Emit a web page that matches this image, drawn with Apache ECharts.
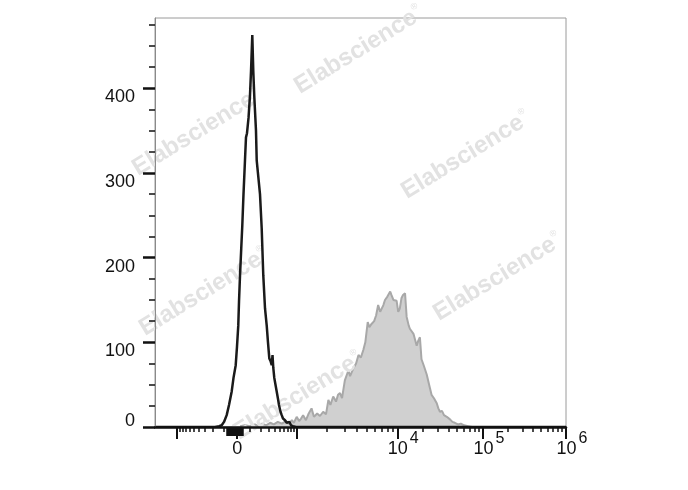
<!DOCTYPE html>
<html>
<head>
<meta charset="utf-8">
<script src="https://cdn.jsdelivr.net/npm/echarts@6/dist/echarts.min.js"></script>
<style>
html,body{margin:0;padding:0;background:#fff;}
#chart{width:688px;height:490px;}
</style>
</head>
<body>
<div id="chart"></div>
<script>
// ---- data (x in display channels 0..1024 of the biexponential axis, y = events) ----
const blackChannels = [0, 149.5, 159.5, 166.2, 171.9, 178.6, 184.4, 191.1, 195.6, 201.1, 204.3, 207.5, 209.3, 211.8, 214.8, 217.5, 220.5, 224.2, 226.7, 229.2, 233.0, 236.7, 239.2, 242.4, 244.9, 247.4, 249.2, 251.6, 253.4, 257.4, 261.6, 265.8, 269.8, 274.1, 278.3, 281.5, 284.8, 287.8, 290.8, 292.8, 294.7, 297.2, 300.2, 303.2, 306.5, 308.9, 312.7, 315.7, 318.9, 321.4, 323.9, 326.4, 328.1, 331.4, 335.1, 338.8, 343.8, 351.3, 1024];
const blackCounts   = [0, 0, 1, 2, 6, 14, 26, 42, 58, 73, 95, 120, 148, 179, 210, 238, 275, 315, 342, 347, 365, 392, 420, 463, 420, 390, 388, 350, 315, 313, 275, 235, 179, 140, 120, 100, 81, 78, 73, 85, 70, 58, 50, 42, 33, 26, 18, 14, 10, 12, 8, 6, 5, 4, 6, 2, 1, 0, 0];

const grayChannels = [212, 224, 237, 249, 257, 267, 277, 287, 296, 306, 316, 326, 334, 341, 346, 353, 359, 364, 369, 376, 382, 390, 396, 404, 411, 419, 426, 432, 437, 444, 451, 456, 461, 466, 473, 482, 486, 494, 501, 507, 513, 519, 524, 530, 534, 540, 546, 551, 556, 561, 565, 569, 573, 579, 586, 589, 594, 598, 602, 606, 610, 614, 618, 623, 627, 632, 635, 644, 652, 656, 660, 664, 670, 677, 683, 689, 695, 702, 706, 710, 715, 720, 727, 735, 741, 747, 755, 762, 770, 780, 790];
const grayCounts   = [1, 2, 1, 3, 1, 4, 2, 5, 3, 6, 4, 7, 4, 8, 5, 12, 7, 10, 14, 8, 15, 22, 12, 16, 13, 18, 15, 32, 26, 36, 30, 38, 40, 34, 55, 67, 60, 69, 75, 85, 82, 91, 100, 124, 118, 122, 125, 132, 144, 136, 134, 144, 150, 154, 160, 156, 150, 151, 149, 136, 140, 152, 156, 158, 130, 120, 116, 110, 96, 102, 106, 80, 72, 62, 50, 38, 34, 28, 22, 18, 19, 14, 12, 9, 6, 5, 3, 4, 2, 1, 0];

// ---- axis ticks (fluorescence values) ----
const xMajorValues = [-1000, 0, 1000, 10000, 100000, 1000000];
const xLabelValues = [0, 10000, 100000, 1000000];
const xLabelTexts  = ['0', '10^4', '10^5', '10^6'];
const xMinorValues = [-900, -800, -700, -600, -500, -400, -300, -200, -100,
  100, 200, 300, 400, 500, 600, 700, 800, 900,
  2000, 3000, 4000, 5000, 6000, 7000, 8000, 9000,
  20000, 30000, 40000, 50000, 60000, 70000, 80000, 90000,
  200000, 300000, 400000, 500000, 600000, 700000, 800000, 900000];
const xNearZeroValues = [-80, -75, -70, -65, -60, -55, -50, -45, -40, -35, -30, -25, -20, -15, -10, -5,
  5, 10, 15, 20, 25, 30, 35, 40];
const yMajorValues = [0, 100, 200, 300, 400];
const yMinorValues = [25, 50, 75, 125, 150, 175, 225, 250, 275, 325, 350, 375, 425, 450, 475];

// ---- biexponential display scale (value -> channel) ----
const CH_NEG = 54.8, CH_ZERO = 204.3, LIN_W = 180;
const decadeCh = [352.5, 603.7, 817.2, 1024]; // 1e3, 1e4, 1e5, 1e6
function toChannel(v) {
  if (Math.abs(v) <= 1000) {
    const s = Math.asinh(Math.abs(v) / LIN_W) / Math.asinh(1000 / LIN_W);
    return v >= 0 ? CH_ZERO + s * (decadeCh[0] - CH_ZERO) : CH_ZERO - s * (CH_ZERO - CH_NEG);
  }
  const lg = Math.log10(v);
  let d = Math.floor(lg); if (d > 5) d = 5;
  return decadeCh[d - 3] + (lg - d) * (decadeCh[d - 2] - decadeCh[d - 3]);
}
const xMajorCh = xMajorValues.map(toChannel);
const xMinorCh = xMinorValues.map(toChannel);
const xNearZeroCh = xNearZeroValues.map(toChannel);
const xLabelCh = xLabelValues.map(toChannel);

function xLabelFmt(val) {
  let best = 0, bd = Infinity;
  xLabelCh.forEach((c, i) => { const d = Math.abs(c - val); if (d < bd) { bd = d; best = i; } });
  const t = xLabelTexts[best];
  if (t.indexOf('^') < 0) return '{b0|' + t + '}{s0| }';
  const p = t.split('^');
  return '{b|' + p[0] + '}{s|' + p[1] + '}';
}

const FONT = 'Liberation Sans, Arial, sans-serif';
const wmRich = {
  a: { fontSize: 24, fontWeight: 'bold', fontFamily: FONT, fill: '#e2e2e2' },
  r: { fontSize: 9, fontFamily: FONT, fill: '#e2e2e2', padding: [0, 0, 16, 1] }
};
const wmCenters = [[359, 50], [197, 132], [466, 155], [204, 292], [498, 277], [298, 396]];

function tickAxis(values, len, width) {
  return {
    type: 'value', min: 0, max: 1024, position: 'bottom', z: 6,
    axisLine: { show: false, onZero: false },
    axisTick: { show: true, customValues: values, length: len, lineStyle: { color: '#111', width: width } },
    axisLabel: { show: false },
    splitLine: { show: false }
  };
}

const chart = echarts.init(document.getElementById('chart'), null, { renderer: 'canvas' });
chart.setOption({
  animation: false,
  backgroundColor: '#fff',
  grid: { left: 155, right: 122, top: 18, bottom: 63, show: true, borderColor: '#9a9a9a', borderWidth: 1, backgroundColor: 'transparent' },
  xAxis: [
    {
      type: 'value', min: 0, max: 1024, position: 'bottom', z: 6,
      axisLine: { show: true, onZero: false, lineStyle: { color: '#111', width: 2.5 } },
      axisTick: { show: true, customValues: xMajorCh, length: 12, lineStyle: { color: '#111', width: 2 } },
      axisLabel: {
        show: true, customValues: xLabelCh, margin: 11, formatter: xLabelFmt,
        rich: {
          b0: { fontSize: 18, fontFamily: FONT, color: '#111', lineHeight: 20, padding: [15, 0, 0, 5], verticalAlign: 'bottom' },
          s0: { fontSize: 16, fontFamily: FONT, color: '#111', lineHeight: 18, padding: [0, 0, 11, 0], verticalAlign: 'bottom' },
          b: { fontSize: 18, fontFamily: FONT, color: '#111', lineHeight: 20, padding: [15, 0, 0, 12], verticalAlign: 'bottom' },
          s: { fontSize: 16, fontFamily: FONT, color: '#111', lineHeight: 18, padding: [0, 0, 11, 2], verticalAlign: 'bottom' }
        }
      },
      splitLine: { show: false }
    },
    tickAxis(xMinorCh, 5, 1.5),
    tickAxis(xNearZeroCh, 9, 1.5)
  ],
  yAxis: [
    {
      type: 'value', min: 0, max: 483, position: 'left', z: 6,
      axisLine: { show: true, onZero: false, lineStyle: { color: '#8a8a8a', width: 1 } },
      axisTick: { show: true, customValues: yMajorValues, length: 12, lineStyle: { color: '#111', width: 2.5 } },
      axisLabel: {
        show: true, customValues: yMajorValues, margin: 20,
        formatter: v => v === 0 ? '{z|0}' : '{n|' + v + '}',
        rich: {
          n: { fontSize: 18, fontFamily: FONT, color: '#111', padding: [18, 0, 0, 0] },
          z: { fontSize: 18, fontFamily: FONT, color: '#111', padding: [0, 0, 12, 0] }
        }
      },
      splitLine: { show: false }
    },
    {
      type: 'value', min: 0, max: 483, position: 'left', z: 6,
      axisLine: { show: false, onZero: false },
      axisTick: { show: true, customValues: yMinorValues, length: 6, lineStyle: { color: '#111', width: 1.5 } },
      axisLabel: { show: false },
      splitLine: { show: false }
    }
  ],
  graphic: wmCenters.map(c => ({
    type: 'text', x: c[0], y: c[1], rotation: 0.55, z: 3, silent: true,
    style: { text: '{a|Elabscience}{r|®}', rich: wmRich, textAlign: 'center', textVerticalAlign: 'middle', fill: '#e2e2e2' }
  })),
  series: [
    {
      type: 'line', xAxisIndex: 0, yAxisIndex: 0, z: 1, showSymbol: false, smooth: false,
      data: grayChannels.map((c, i) => [c, grayCounts[i]]),
      lineStyle: { color: '#a8a8a8', width: 2 },
      areaStyle: { color: '#d0d0d0', opacity: 1 }
    },
    {
      type: 'line', xAxisIndex: 0, yAxisIndex: 0, z: 4, showSymbol: false, smooth: false,
      data: blackChannels.map((c, i) => [c, blackCounts[i]]),
      lineStyle: { color: '#1a1a1a', width: 2.5 }
    }
  ]
});
</script>
</body>
</html>
